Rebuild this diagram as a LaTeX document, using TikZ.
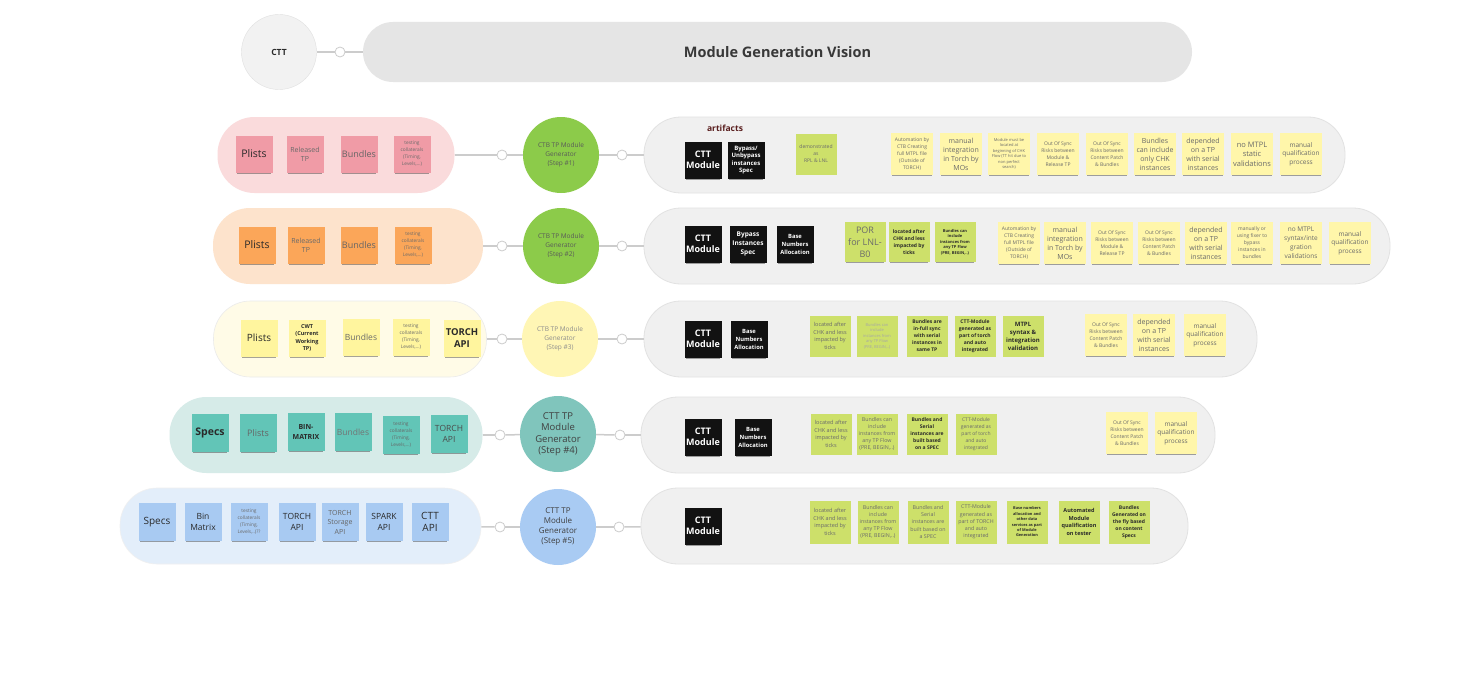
\documentclass[tikz,border=0pt]{standalone}
\usepackage{fontspec}
\setmainfont{Open Sans}
\usetikzlibrary{shadows}
\newcommand\fz[2]{\fontsize{#1}{#2}\selectfont}
\definecolor{linec}{HTML}{CCCCCC}
\definecolor{pillR}{HTML}{F0F0F0}
\definecolor{pillRb}{HTML}{E2E2E2}
\definecolor{bgPink}{HTML}{FADBDC}
\definecolor{ntPink}{HTML}{F09BA6}
\definecolor{bgOrange}{HTML}{FDE3CC}
\definecolor{ntOrange}{HTML}{FBA659}
\definecolor{bgYellow}{HTML}{FFFBE7}
\definecolor{ntYellow}{HTML}{FFF59E}
\definecolor{ntYel}{HTML}{FFF6AA}
\definecolor{ntGreen}{HTML}{CDE06A}
\definecolor{bgTeal}{HTML}{D6EBE8}
\definecolor{ntTeal}{HTML}{62C5B7}
\definecolor{bgBlue}{HTML}{E3EEFA}
\definecolor{ntBlue}{HTML}{A8CAF2}
\definecolor{cGreen}{HTML}{8CCB4A}
\definecolor{cYellow}{HTML}{FFF6B5}
\definecolor{cTeal}{HTML}{80C5BC}
\definecolor{cBlue}{HTML}{A9CBF3}
\definecolor{txtG}{HTML}{6A6A6A}
\definecolor{txtD}{HTML}{2A2A2A}
\definecolor{artc}{HTML}{5A1F1F}
\tikzset{
  shd/.style={drop shadow={shadow xshift=0pt,shadow yshift=-2.5pt,shadow scale=0.93,opacity=0.35,fill=black}},
  nbase/.style={rectangle, inner sep=0pt, align=center, shd},
  lnote/.style={nbase, minimum width=37, minimum height=37},
  ynote/.style={nbase, fill=ntYel, minimum width=42, minimum height=42, text=txtG},
  gnote/.style={nbase, fill=ntGreen, minimum width=41, minimum height=41, text=txtG},
  bnote/.style={nbase, fill=black!93, minimum width=37, minimum height=37, text=white, font=\bfseries\fz{6.5}{8}},
  gen/.style={circle, minimum size=76, inner sep=0pt, align=center},
  dotc/.style={circle, minimum size=10, inner sep=0pt, draw=linec, fill=white, line width=0.8},
  conn/.style={draw=linec, line width=1.5},
  pillL/.style={rectangle, rounded corners=37, inner sep=0pt},
  pillRt/.style={rectangle, rounded corners=37, inner sep=0pt, fill=pillR, draw=pillRb, line width=0.8, minimum height=76},
}
\begin{document}
\begin{tikzpicture}[x=1pt,y=-1pt]
\useasboundingbox (0,0) rectangle (1459,685);
\fill[white] (0,0) rectangle (1459,685);

% ---------- top ----------
\node[gen, minimum size=75, fill=black!5, draw=black!12, font=\bfseries\fz{8.5}{10}, text=txtD] (ctt) at (279,52) {CTT};
\node[dotc] (d0) at (340,52) {};
\node[pillL, rounded corners=30, fill=black!10, minimum width=829, minimum height=60, font=\bfseries\fz{14.5}{17}, text=black!78] (title) at (777.5,52) {Module Generation Vision};
\draw[conn] (ctt) -- (d0);
\draw[conn] (d0) -- (title);

% ---------- row 1 ----------
\node[pillL, fill=bgPink, minimum width=237, minimum height=76] (L1) at (336,155) {};
\node[gen, fill=cGreen, text=black!65, font=\fz{6.5}{9}] (C1) at (561,155) {CTB TP Module\\Generator\\(Step \#1)};
\node[dotc] (d1a) at (502,155) {};
\node[dotc] (d1b) at (622,155) {};
\node[pillRt, minimum width=701] (R1) at (994.5,155) {};
\draw[conn] (L1) -- (d1a); \draw[conn] (d1a) -- (C1); \draw[conn] (C1) -- (d1b); \draw[conn] (d1b) -- (R1);

\node[lnote, fill=ntPink, font=\fz{10.5}{12}, text=txtD] (p1a) at (254,154) {Plists};
\node[lnote, fill=ntPink, font=\fz{7}{9}, text=txtG] (p1b) at (305,154) {Released\\TP};
\node[lnote, fill=ntPink, font=\fz{9}{11}, text=black!60] (p1c) at (359,154) {Bundles};
\node[lnote, fill=ntPink, font=\fz{4.8}{7}, text=txtG] (p1d) at (412,154) {testing\\collaterals\\(Timing,\\Levels,...)};

\node[font=\bfseries\fz{8.5}{10}, text=artc] (art1) at (725,128) {artifacts};
\node[bnote, font=\bfseries\fz{9}{11}] (b1a) at (703,160) {CTT\\Module};
\node[bnote, font=\bfseries\fz{6}{7.5}] (b1b) at (746,160) {Bypass/\\Unbypass\\instances\\Spec};
\node[gnote, font=\fz{5}{7}] (g1a) at (816,154) {demonstrated\\as\\RPL \& LNL};
\node[ynote, font=\fz{5}{7}] (y1a) at (912,154) {Automation by\\CTB Creating\\full MTPL file\\(Outside of\\TORCH)};
\node[ynote, font=\fz{7}{9}] (y1b) at (961,154) {manual\\integration\\in Torch by\\MOs};
\node[ynote, font=\fz{4}{5.5}] (y1c) at (1009,154) {Module must be\\located at\\beginning of CHK\\Flow (TT hit due to\\non perfect\\search)};
\node[ynote, font=\fz{5}{7}] (y1d) at (1058,154) {Out Of Sync\\Risks between\\Module \&\\Release TP};
\node[ynote, font=\fz{5}{7}] (y1e) at (1107,154) {Out Of Sync\\Risks between\\Content Patch\\\& Bundles};
\node[ynote, font=\fz{7}{9}] (y1f) at (1155,154) {Bundles\\can include\\only CHK\\instances};
\node[ynote, font=\fz{7}{9}] (y1g) at (1203,154) {depended\\on a TP\\with serial\\instances};
\node[ynote, font=\fz{7.5}{9.5}] (y1h) at (1252,154) {no MTPL\\static\\validations};
\node[ynote, font=\fz{6.5}{8.5}] (y1i) at (1301,154) {manual\\qualification\\process};

% ---------- row 2 ----------
\node[pillL, fill=bgOrange, minimum width=270, minimum height=76] (L2) at (348,246) {};
\node[gen, fill=cGreen, text=black!65, font=\fz{6.5}{9}] (C2) at (561,246) {CTB TP Module\\Generator\\(Step \#2)};
\node[dotc] (d2a) at (502,246) {};
\node[dotc] (d2b) at (622,246) {};
\node[pillRt, minimum width=746] (R2) at (1017,246) {};
\draw[conn] (L2) -- (d2a); \draw[conn] (d2a) -- (C2); \draw[conn] (C2) -- (d2b); \draw[conn] (d2b) -- (R2);

\node[lnote, fill=ntOrange, font=\fz{10.5}{12}, text=txtD] (p2a) at (257,245) {Plists};
\node[lnote, fill=ntOrange, font=\fz{7}{9}, text=txtG] (p2b) at (306,245) {Released\\TP};
\node[lnote, fill=ntOrange, font=\fz{9}{11}, text=black!60] (p2c) at (359,245) {Bundles};
\node[lnote, fill=ntOrange, font=\fz{4.8}{7}, text=txtG] (p2d) at (413,245) {testing\\collaterals\\(Timing,\\Levels,...)};

\node[bnote, font=\bfseries\fz{9}{11}] (b2a) at (703,244) {CTT\\Module};
\node[bnote, font=\bfseries\fz{6.5}{9}] (b2b) at (748,244) {Bypass\\Instances\\Spec};
\node[bnote, font=\bfseries\fz{5.8}{8}] (b2c) at (795,244) {Base\\Numbers\\Allocation};
\node[gnote, minimum height=40, font=\fz{9}{12}] (g2a) at (865,242) {POR\\for LNL-\\B0};
\node[gnote, minimum height=40, text=txtD, font=\bfseries\fz{5}{7}] (g2b) at (909,242) {located after\\CHK and less\\impacted by\\ticks};
\node[gnote, minimum height=40, text=txtD, font=\bfseries\fz{4}{5.5}] (g2c) at (955,242) {Bundles can\\include\\instances from\\any TP Flow\\(PRE, BEGIN,..)};
\node[ynote, font=\fz{5}{7}] (y2a) at (1019,243) {Automation by\\CTB Creating\\full MTPL file\\(Outside of\\TORCH)};
\node[ynote, font=\fz{7}{9}] (y2b) at (1065,243) {manual\\integration\\in Torch by\\MOs};
\node[ynote, font=\fz{5}{7}] (y2c) at (1112,243) {Out Of Sync\\Risks between\\Module \&\\Release TP};
\node[ynote, font=\fz{5}{7}] (y2d) at (1159,243) {Out Of Sync\\Risks between\\Content Patch\\\& Bundles};
\node[ynote, font=\fz{7}{9}] (y2e) at (1206,243) {depended\\on a TP\\with serial\\instances};
\node[ynote, font=\fz{5}{7}] (y2f) at (1252,243) {manually or\\using fixer to\\bypass\\instances in\\bundles};
\node[ynote, font=\fz{6.5}{9}] (y2g) at (1301,243) {no MTPL\\syntax/inte\\gration\\validations};
\node[ynote, font=\fz{6.5}{8.5}] (y2h) at (1350,243) {manual\\qualification\\process};

% ---------- row 3 ----------
\node[pillL, fill=bgYellow, draw=black!8, line width=0.6, minimum width=273, minimum height=76] (L3) at (350,339) {};
\node[gen, fill=cYellow, text=black!45, font=\fz{6.5}{9}] (C3) at (560,339) {CTB TP Module\\Generator\\(Step \#3)};
\node[dotc] (d3a) at (502,339) {};
\node[dotc] (d3b) at (622,339) {};
\node[pillRt, minimum width=613] (R3) at (950.5,339) {};
\draw[conn] (L3) -- (d3a); \draw[conn] (d3a) -- (C3); \draw[conn] (C3) -- (d3b); \draw[conn] (d3b) -- (R3);

\node[lnote, fill=ntYellow, font=\fz{10}{12}, text=txtD] (p3a) at (259,338) {Plists};
\node[lnote, fill=ntYellow, font=\bfseries\fz{5.5}{7.5}, text=txtD] (p3b) at (307,338) {CWT\\(Current\\Working\\TP)};
\node[lnote, fill=ntYellow, font=\fz{8.5}{10}, text=txtG] (p3c) at (361,337) {Bundles};
\node[lnote, fill=ntYellow, font=\fz{4.8}{7}, text=txtG] (p3d) at (411,337) {testing\\collaterals\\(Timing,\\Levels,...)};
\node[lnote, fill=ntYellow, font=\bfseries\fz{9.5}{11.5}, text=txtD] (p3e) at (462,338) {TORCH\\API};

\node[bnote, font=\bfseries\fz{9}{11}] (b3a) at (703,339) {CTT\\Module};
\node[bnote, font=\bfseries\fz{5.8}{8}] (b3b) at (749,339) {Base\\Numbers\\Allocation};
\node[gnote, font=\fz{5.5}{7.5}] (g3a) at (830,336) {located after\\CHK and less\\impacted by\\ticks};
\node[gnote, text=black!35, font=\fz{4}{5.5}] (g3b) at (877,336) {Bundles can\\include\\instances from\\any TP Flow\\(PRE, BEGIN,..)};
\node[gnote, text=txtD, font=\bfseries\fz{5}{7}] (g3c) at (927,336) {Bundles are\\in-full sync\\with serial\\instances in\\same TP};
\node[gnote, text=txtD, font=\bfseries\fz{5}{7}] (g3d) at (975,336) {CTT-Module\\generated as\\part of torch\\and auto\\integrated};
\node[gnote, text=txtD, font=\bfseries\fz{6}{8}] (g3e) at (1023,336) {MTPL\\syntax \&\\integration\\validation};
\node[ynote, font=\fz{5}{7}] (y3a) at (1106,335) {Out Of Sync\\Risks between\\Content Patch\\\& Bundles};
\node[ynote, font=\fz{7}{9}] (y3b) at (1154,335) {depended\\on a TP\\with serial\\instances};
\node[ynote, font=\fz{6.5}{8.5}] (y3c) at (1205,335) {manual\\qualification\\process};

% ---------- row 4 ----------
\node[pillL, fill=bgTeal, minimum width=313, minimum height=76] (L4) at (326,435) {};
\node[gen, fill=cTeal, text=black!75, font=\fz{9.5}{11.5}] (C4) at (558,434) {CTT TP\\Module\\Generator\\(Step \#4)};
\node[dotc] (d4a) at (500,435) {};
\node[dotc] (d4b) at (620,435) {};
\node[pillRt, minimum width=574] (R4) at (928,435) {};
\draw[conn] (L4) -- (d4a); \draw[conn] (d4a) -- (C4); \draw[conn] (C4) -- (d4b); \draw[conn] (d4b) -- (R4);

\node[lnote, fill=ntTeal, minimum height=38, font=\bfseries\fz{10.5}{12}, text=txtD] (p4a) at (210,433) {Specs};
\node[lnote, fill=ntTeal, minimum height=38, font=\fz{9}{11}, text=black!60] (p4b) at (258,433) {Plists};
\node[lnote, fill=ntTeal, minimum height=38, font=\bfseries\fz{7}{9.5}, text=txtD] (p4c) at (306,432) {BIN-\\MATRIX};
\node[lnote, fill=ntTeal, minimum height=38, font=\fz{8.5}{10}, text=black!55] (p4d) at (353,432) {Bundles};
\node[lnote, fill=ntTeal, minimum height=38, font=\fz{4.8}{7}, text=black!60] (p4e) at (401,435) {testing\\collaterals\\(Timing,\\Levels,...)};
\node[lnote, fill=ntTeal, minimum height=38, font=\fz{8.5}{11}, text=black!70] (p4f) at (449,434) {TORCH\\API};

\node[bnote, font=\bfseries\fz{9}{11}] (b4a) at (703,437) {CTT\\Module};
\node[bnote, font=\bfseries\fz{5.8}{8}] (b4b) at (753,437) {Base\\Numbers\\Allocation};
\node[gnote, font=\fz{5.5}{7.5}] (g4a) at (831,434) {located after\\CHK and less\\impacted by\\ticks};
\node[gnote, font=\fz{5.3}{7.2}] (g4b) at (877,434) {Bundles can\\include\\instances from\\any TP Flow\\(PRE, BEGIN,..)};
\node[gnote, text=txtD, font=\bfseries\fz{5}{7}] (g4c) at (927,434) {Bundles and\\Serial\\instances are\\built based\\on a SPEC};
\node[gnote, font=\fz{5}{7}] (g4d) at (976,434) {CTT-Module\\generated as\\part of torch\\and auto\\integrated};
\node[ynote, font=\fz{5}{7}] (y4a) at (1127,433) {Out Of Sync\\Risks between\\Content Patch\\\& Bundles};
\node[ynote, font=\fz{6.5}{8.5}] (y4b) at (1176,433) {manual\\qualification\\process};

% ---------- row 5 ----------
\node[pillL, fill=bgBlue, draw=black!6, line width=0.6, minimum width=361, minimum height=76] (L5) at (300.5,526) {};
\node[gen, fill=cBlue, text=black!75, font=\fz{8}{10}] (C5) at (558,527) {CTT TP\\Module\\Generator\\(Step \#5)};
\node[dotc] (d5a) at (500,527) {};
\node[dotc] (d5b) at (619,527) {};
\node[pillRt, minimum width=547] (R5) at (914.5,526) {};
\draw[conn] (L5) -- (d5a); \draw[conn] (d5a) -- (C5); \draw[conn] (C5) -- (d5b); \draw[conn] (d5b) -- (R5);

\node[lnote, fill=ntBlue, minimum height=38, font=\fz{10}{12}, text=txtD] (p5a) at (157,522) {Specs};
\node[lnote, fill=ntBlue, minimum height=38, font=\fz{8.5}{11}, text=txtD] (p5b) at (203,522) {Bin\\Matrix};
\node[lnote, fill=ntBlue, minimum height=38, font=\fz{4.8}{7}, text=txtG] (p5c) at (249,522) {testing\\collaterals\\(Timing,\\Levels,..)??};
\node[lnote, fill=ntBlue, minimum height=38, font=\fz{8.5}{11}, text=txtD] (p5d) at (297,522) {TORCH\\API};
\node[lnote, fill=ntBlue, minimum height=38, font=\fz{7}{9.5}, text=black!60] (p5e) at (340,522) {TORCH\\Storage\\API};
\node[lnote, fill=ntBlue, minimum height=38, font=\fz{8.5}{11}, text=txtD] (p5f) at (384,522) {SPARK\\API};
\node[lnote, fill=ntBlue, minimum height=38, font=\fz{10}{12}, text=txtD] (p5g) at (430,522) {CTT\\API};

\node[bnote, font=\bfseries\fz{9}{11}] (b5a) at (703,526) {CTT\\Module};
\node[gnote, minimum height=43, font=\fz{5.5}{7.5}] (g5a) at (830,522) {located after\\CHK and less\\impacted by\\ticks};
\node[gnote, minimum height=43, font=\fz{5.3}{7.2}] (g5b) at (878,522) {Bundles can\\include\\instances from\\any TP Flow\\(PRE, BEGIN,..)};
\node[gnote, minimum height=43, font=\fz{5.3}{7.2}] (g5c) at (928,522) {Bundles and\\Serial\\instances are\\built based on\\a SPEC};
\node[gnote, minimum height=43, font=\fz{5.3}{7.2}] (g5d) at (976,522) {CTT-Module\\generated as\\part of TORCH\\and auto\\integrated};
\node[gnote, minimum height=43, text=txtD, font=\bfseries\fz{3.9}{5.4}] (g5e) at (1027,522) {Base numbers\\allocation and\\other data\\services as part\\of Module\\Generation};
\node[gnote, minimum height=43, text=txtD, font=\bfseries\fz{5.5}{7.5}] (g5f) at (1079,522) {Automated\\Module\\qualification\\on tester};
\node[gnote, minimum height=43, text=txtD, font=\bfseries\fz{5}{7}] (g5g) at (1129,522) {Bundles\\Generated on\\the fly based\\on content\\Specs};
\end{tikzpicture}
\end{document}
